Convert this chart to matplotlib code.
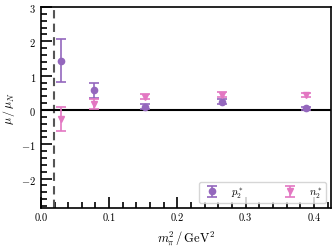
import matplotlib
matplotlib.use("Agg")
import matplotlib.pyplot as plt
from matplotlib.ticker import MultipleLocator

plt.rcParams['font.family'] = 'serif'
plt.rcParams['font.serif'] = ['cmr10', 'DejaVu Serif']
plt.rcParams['mathtext.fontset'] = 'cm'
plt.rcParams['axes.formatter.use_mathtext'] = True
plt.rcParams['axes.unicode_minus'] = True

m2 = [0.029, 0.078, 0.153, 0.266, 0.388]
p_val = [1.44, 0.58, 0.10, 0.24, 0.05]
p_err = [0.62, 0.22, 0.07, 0.08, 0.05]
n_val = [-0.25, 0.18, 0.39, 0.44, 0.43]
n_err = [0.35, 0.15, 0.07, 0.07, 0.06]
phys_m2 = 0.0195

fig = plt.figure(figsize=(3.35, 2.51), dpi=100)
ax = fig.add_axes([0.122, 0.167, 0.866, 0.801])

ax.axvline(phys_m2, color='#555555', ls='--', lw=1.5, dashes=(4, 2.5))
ax.axhline(0, color='black', lw=1.5)

ax.errorbar(m2, p_val, yerr=p_err, fmt='o', color='#9467bd', ms=4.5,
            capsize=3.5, elinewidth=1.2, capthick=1.2, label=r'$p_2^*$')
ax.errorbar(m2, n_val, yerr=n_err, fmt='v', color='#e377c2', ms=5,
            capsize=3.5, elinewidth=1.2, capthick=1.2, label=r'$n_2^*$')

ax.set_xlim(0, 0.425)
ax.set_ylim(-2.86, 3)
ax.xaxis.set_major_locator(MultipleLocator(0.1))
ax.xaxis.set_minor_locator(MultipleLocator(0.02))
ax.yaxis.set_major_locator(MultipleLocator(1))
ax.yaxis.set_minor_locator(MultipleLocator(0.2))
ax.tick_params(which='both', direction='in', top=False, right=False, labelsize=7.5)
ax.tick_params(which='major', length=8, width=1.2)
ax.tick_params(which='minor', length=4, width=1.2)
ax.xaxis.set_major_formatter(matplotlib.ticker.FormatStrFormatter('%.1f'))
for s in ax.spines.values():
    s.set_linewidth(1.2)

ax.set_xlabel(r'$m_\pi^2\,/\,\mathrm{GeV}^2$', fontsize=9)
ax.set_ylabel(r'$\mu\,/\,\mu_N$', fontsize=8.5)
ax.yaxis.set_label_coords(-0.082, 0.5)

ax.legend(loc='lower right', ncol=2, fontsize=7.5, handletextpad=0.8,
          columnspacing=3.5, borderpad=0.3)

fig.savefig('out.png', dpi=100)
